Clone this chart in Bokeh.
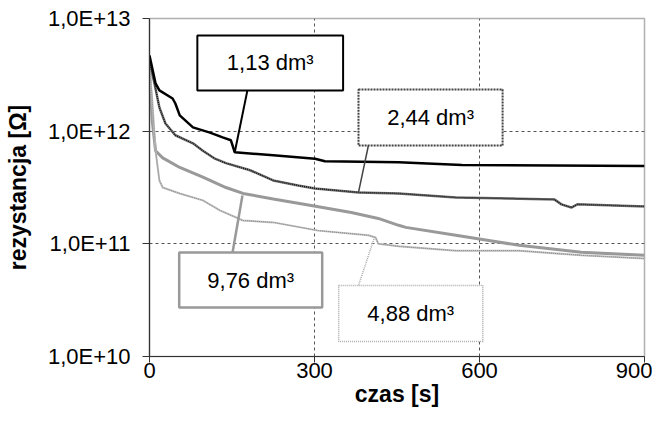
from bokeh.plotting import figure
from bokeh.models import Range1d, FixedTicker
from bokeh.core.properties import value
from bokeh.embed import file_html
from bokeh.resources import INLINE

# ---- data (time in s, resistance in ohm) ----
t_113 = [0, 11, 18, 42, 47, 55, 79, 110, 133, 148, 155, 225, 301, 319, 453, 568, 900]
r_113 = [4.7e12, 2.65e12, 2.3e12, 1.95e12, 1.76e12, 1.38e12, 1.08e12, 9.7e11, 8.8e11,
         8.3e11, 6.5e11, 6.1e11, 5.7e11, 5.4e11, 5.3e11, 5.0e11, 4.9e11]

t_244 = [0, 9, 18, 29, 47, 79, 97, 119, 139, 183, 225, 270, 301, 380, 453, 557, 736, 749,
         767, 778, 900]
r_244 = [4.2e12, 2.65e12, 1.62e12, 1.17e12, 9.2e11, 7.8e11, 6.7e11, 5.7e11, 5.2e11, 4.5e11,
         3.65e11, 3.3e11, 3.1e11, 2.86e11, 2.8e11, 2.58e11, 2.48e11, 2.24e11, 2.1e11,
         2.24e11, 2.15e11]

t_976 = [0, 5, 11, 24, 55, 97, 139, 170, 225, 294, 367, 416, 453, 466, 557, 617, 672, 785, 900]
r_976 = [3.45e12, 1.24e12, 6.7e11, 5.8e11, 4.76e11, 3.9e11, 3.16e11, 2.8e11, 2.5e11, 2.19e11,
         1.9e11, 1.68e11, 1.46e11, 1.4e11, 1.19e11, 1.07e11, 9.7e10, 8.4e10, 7.9e10]

t_488 = [0, 5, 11, 18, 24, 55, 97, 128, 170, 225, 307, 398, 411, 416, 453, 557, 672, 785, 900]
r_488 = [3.8e12, 1.87e12, 6.7e11, 3.65e11, 3.16e11, 2.8e11, 2.43e11, 1.98e11, 1.61e11, 1.55e11,
         1.31e11, 1.19e11, 1.14e11, 1.0e11, 9.5e10, 8.7e10, 8.7e10, 7.9e10, 7.4e10]

x_ticks = [0, 300, 600, 900]
y_ticks = [1e10, 1e11, 1e12, 1e13]
y_tick_labels = ["1,0E+10", "1,0E+11", "1,0E+12", "1,0E+13"]

# callout labels: text, box (left, right, bottom, top), leader (box end, curve end)
label_texts = ["1,13 dm³", "2,44 dm³", "9,76 dm³", "4,88 dm³"]
box_left = [87, 380, 54, 344]
box_right = [352, 642, 314, 606]
box_bottom = [2.30e12, 7.46e11, 2.72e10, 1.36e10]
box_top = [7.06e12, 2.34e12, 8.38e10, 4.27e10]
lead_t0 = [178, 398, 151, 380]
lead_r0 = [2.30e12, 7.46e11, 8.38e10, 4.27e10]
lead_t1 = [155, 380, 169, 409]
lead_r1 = [6.5e11, 2.86e11, 2.69e11, 1.14e11]

FONT = "Liberation Sans"

p = figure(frame_width=495, frame_height=338, y_axis_type="log",
           x_range=Range1d(0, 900), y_range=Range1d(1e10, 1e13),
           output_backend="svg", toolbar_location=None,
           min_border_left=149, min_border_top=18, min_border_right=8, min_border_bottom=40)
p.background_fill_color = "white"
p.border_fill_color = "white"
p.outline_line_color = "#b0b0b0"
p.outline_line_width = 1.5

# axes
p.xaxis.ticker = FixedTicker(ticks=x_ticks)
p.yaxis.ticker = FixedTicker(ticks=y_ticks)
p.yaxis.major_label_overrides = {v: s for v, s in zip(y_ticks, y_tick_labels)}
for ax in (p.xaxis[0], p.yaxis[0]):
    ax.axis_line_color = "#333333"
    ax.axis_line_width = 1.2
    ax.major_tick_line_color = "#333333"
    ax.major_tick_in = 0
    ax.major_tick_out = 7
    ax.minor_tick_line_color = None
    ax.major_label_text_font = FONT
    ax.major_label_text_font_size = "22px"
    ax.major_label_text_color = "black"
    ax.axis_label_text_font = FONT
    ax.axis_label_text_font_size = "23px"
    ax.axis_label_text_font_style = "bold"
    ax.axis_label_text_color = "black"
p.xaxis.axis_label = "czas [s]"
p.yaxis.axis_label = "rezystancja [Ω]"
p.yaxis.major_label_standoff = 12
p.xaxis.major_tick_out = 6
p.xaxis.major_label_standoff = 0
p.xaxis.axis_label_standoff = 0
p.yaxis.axis_label_standoff = 14

# grid
p.xgrid.ticker = FixedTicker(ticks=[300, 600])
p.ygrid.ticker = FixedTicker(ticks=[1e11, 1e12])
p.grid.grid_line_color = "#555555"
p.grid.grid_line_dash = "3 3"
p.grid.grid_line_width = 1
p.ygrid.minor_grid_line_color = None

# curves
p.line(t_976, r_976, line_color="#999999", line_width=3)
p.line(t_488, r_488, line_color="#c0c0c0", line_width=2)
p.line(t_488, r_488, line_color="#888888", line_width=1, line_dash="1 1")
p.line(t_244, r_244, line_color="#777777", line_width=2.5)
p.line(t_244, r_244, line_color="#111111", line_width=1.5, line_dash="1 1")
p.line(t_113, r_113, line_color="black", line_width=2.5)

# leaders
lead_colors = ["black", "#444444", "#999999", "#aaaaaa"]
lead_widths = [2, 1.5, 2.5, 1.5]
lead_dash = ["solid", "solid", "solid", "1 1"]
for i in range(4):
    p.line([lead_t0[i], lead_t1[i]], [lead_r0[i], lead_r1[i]], line_color=lead_colors[i],
           line_width=lead_widths[i], line_dash=lead_dash[i])

# boxes
box_colors = ["black", "#444444", "#999999", "#aaaaaa"]
box_widths = [2, 2, 2.5, 1.5]
box_dash = ["solid", "2 1", "solid", "1 1"]
for i in range(4):
    p.quad(left=[box_left[i]], right=[box_right[i]], bottom=[box_bottom[i]], top=[box_top[i]],
           fill_color="white", line_color=box_colors[i], line_width=box_widths[i],
           line_dash=box_dash[i])

cx = [(a + b) / 2 for a, b in zip(box_left, box_right)]
cy = [(a * b) ** 0.5 for a, b in zip(box_bottom, box_top)]
p.text(x=cx, y=cy, text=label_texts, text_align="center", text_baseline="middle",
       text_font=value(FONT), text_font_size="22px", text_color="black")

open("out.html", "w").write(file_html(p, INLINE))
